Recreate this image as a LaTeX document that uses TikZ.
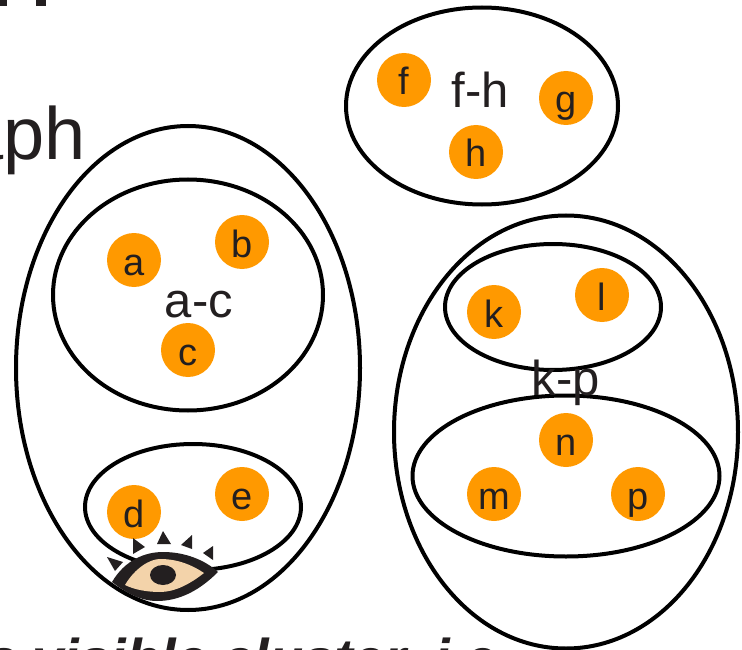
\documentclass[tikz,border=0pt]{standalone}
\usepackage{fontspec}
\setmainfont{Liberation Sans}
\usetikzlibrary{shapes.geometric}
\definecolor{inkgray}{HTML}{231F20}
\definecolor{dotorange}{HTML}{FF9900}
\definecolor{eyetan}{HTML}{F3D3AA}
\tikzset{
  dotnode/.style={circle, fill=dotorange, minimum size=54pt, inner sep=0pt, text height=30pt, text depth=0pt, text=inkgray, font=\fontsize{38}{38}\selectfont},
  cluster/.style={ellipse, draw=black, line width=4pt, inner sep=0pt},
  clusterlabel/.style={anchor=base, inner sep=0pt, text=inkgray, font=\fontsize{49}{49}\selectfont},
  lash/.style={fill=inkgray}
}
\begin{document}
\begin{tikzpicture}[x=1pt, y=-1pt]
  \useasboundingbox (0,0) rectangle (742,650);
  \clip (0,0) rectangle (742,650);
  % cut-off slide text
  \fill[inkgray] (0,0) rectangle (7,6);
  \fill[inkgray] (36,0) rectangle (46,6);
  \node[anchor=base east, inner sep=0pt, text=inkgray, font=\fontsize{74}{74}\selectfont] (slidetitle) at (86,160) {graph};
  \node[anchor=base west, inner sep=0pt, text=inkgray, font=\fontsize{56}{56}\selectfont\bfseries\itshape] (slidenote) at (-14,678) {a visible cluster, i.e.};
  % clusters
  \node[cluster, minimum width=344pt, minimum height=484pt] (ad) at (188,368) {};
  \node[cluster, minimum width=270pt, minimum height=231pt] (ac) at (188,295) {};
  \node[cluster, minimum width=216pt, minimum height=126pt] (de) at (193,507) {};
  \node[cluster, minimum width=272pt, minimum height=197pt] (fh) at (482,106) {};
  \node[cluster, minimum width=344pt, minimum height=433pt] (kp) at (566,432) {};
  \node[cluster, minimum width=216pt, minimum height=126pt] (kl) at (553,307) {};
  \node[cluster, minimum width=307pt, minimum height=161pt] (mp) at (566,476) {};
  % labels
  \node[clusterlabel] (acl) at (199,317) {a-c};
  \node[clusterlabel] (fhl) at (480,108) {f-h};
  \node[clusterlabel] (kpl) at (566,395) {k-p};
  % items
  \node[dotnode] (a) at (134,260) {a};
  \node[dotnode] (b) at (242,242) {b};
  \node[dotnode] (c) at (188,350) {c};
  \node[dotnode] (d) at (134,512) {d};
  \node[dotnode] (e) at (242,494) {e};
  \node[dotnode] (f) at (404,80) {f};
  \node[dotnode] (g) at (566,98) {g};
  \node[dotnode] (h) at (476,152) {h};
  \node[dotnode] (k) at (494,312) {k};
  \node[dotnode] (l) at (602,295) {l};
  \node[dotnode] (m) at (494,494) {m};
  \node[dotnode] (n) at (566,440) {n};
  \node[dotnode] (p) at (638,494) {p};
  % eye
  \fill[inkgray] (112,582) .. controls (125,560) and (145,552) .. (163,552) .. controls (185,552) and (205,560) .. (218,572) .. controls (200,590) and (180,601) .. (157,601) .. controls (140,601) and (125,592) .. (112,582) -- cycle;
  \fill[eyetan] (125,585) .. controls (135,568) and (150,559) .. (160,559) .. controls (178,559) and (192,565) .. (204,573) .. controls (190,584) and (175,592) .. (160,592) .. controls (148,592) and (135,590) .. (125,585) -- cycle;
  \fill[inkgray] (163,575) ellipse (13pt and 10pt);
  \fill[lash] (107,557) -- (123,562) -- (115,571) -- cycle;
  \fill[lash] (133,538) -- (145,547) -- (133,554) -- cycle;
  \fill[lash] (163,531) -- (171,544) -- (157,544) -- cycle;
  \fill[lash] (192,535) -- (192,549) -- (181,545) -- cycle;
  \fill[lash] (213,546) -- (213,560) -- (203,553) -- cycle;
\end{tikzpicture}
\end{document}
